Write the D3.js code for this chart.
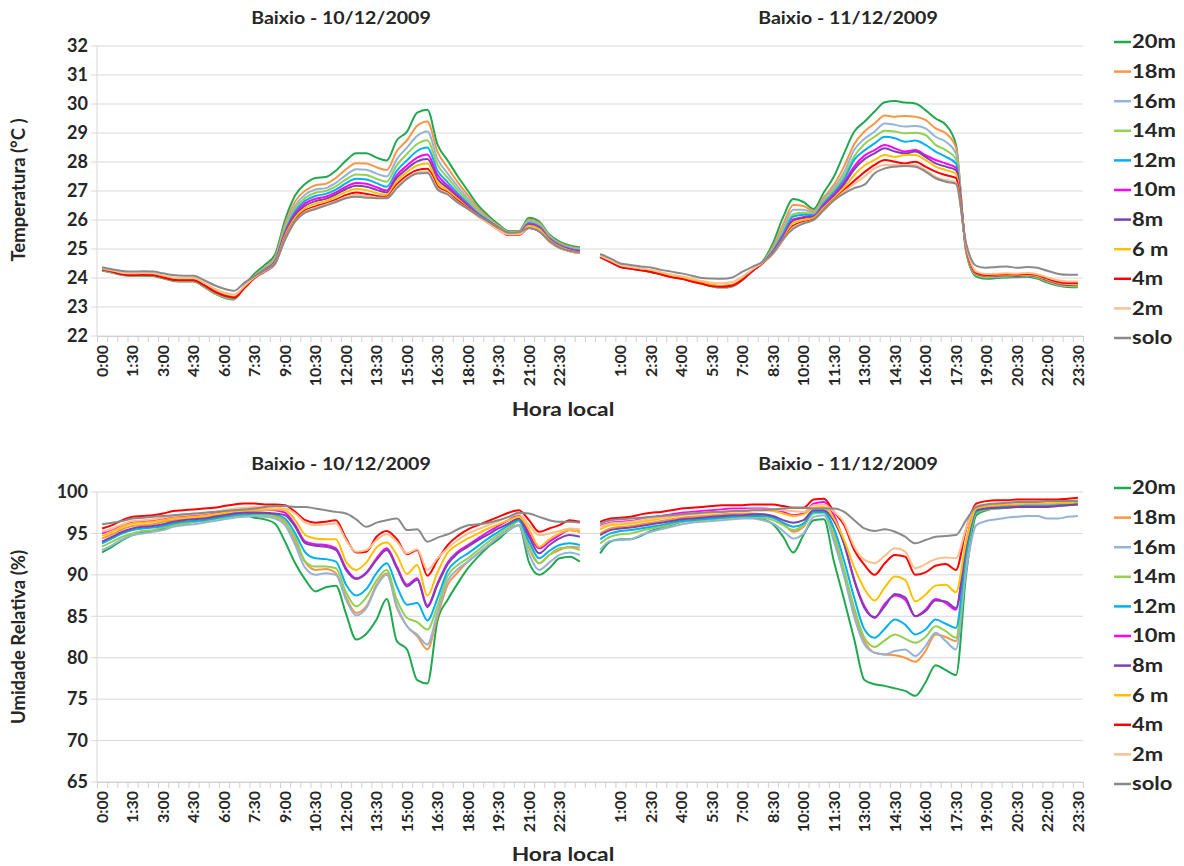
<!DOCTYPE html>
<html>
<head>
<meta charset="utf-8">
<style>
  body { margin: 0; background: #fff; }
  svg text { font-family: Lato, "Open Sans", sans-serif; font-weight: 700; fill: #262626; }
  .grid line { stroke: #d9d9d9; stroke-width: 1; }
  .axis path, .axis line { stroke: #d0d0d0; }
</style>
<script src="https://cdn.jsdelivr.net/npm/d3@7/dist/d3.min.js"></script>
</head>
<body>
<script>
// Series (legend order)
var heights = ["20m", "18m", "16m", "14m", "12m", "10m", "8m", "6 m", "4m", "2m", "solo"];
var colors  = ["#1fa84f", "#f79646", "#95b3d7", "#92d050", "#00b0f0", "#ff00ff", "#7b43ad", "#ffc000", "#ff0000", "#fac090", "#8a8a8a"];

// tick labels (every 3rd half-hour category)
var labelsDay1 = ["0:00","1:30","3:00","4:30","6:00","7:30","9:00","10:30","12:00","13:30","15:00","16:30","18:00","19:30","21:00","22:30"];
var labelsDay2 = ["1:00","2:30","4:00","5:30","7:00","8:30","10:00","11:30","13:00","14:30","16:00","17:30","19:00","20:30","22:00","23:30"];
var tempTicks = [22, 23, 24, 25, 26, 27, 28, 29, 30, 31, 32];
var humTicks = [65, 70, 75, 80, 85, 90, 95, 100];
var titles = ["Baixio - 10/12/2009", "Baixio - 11/12/2009"];

// Temperatura (°C), half-hourly, day 10 (48 values) then day 11 (48 values)
var temp20m = [24.26,24.18,24.1,24.07,24.08,24.07,23.99,23.9,23.88,23.88,23.7,23.48,23.33,23.26,23.75,24.15,24.45,24.8,26.0,26.85,27.25,27.45,27.48,27.7,28.05,28.3,28.3,28.15,28.05,28.75,29.05,29.7,29.8,28.6,28.05,27.5,27.0,26.5,26.15,25.85,25.62,25.62,26.08,25.95,25.5,25.25,25.12,25.06,
  24.72,24.55,24.38,24.32,24.27,24.21,24.13,24.04,23.98,23.89,23.81,23.71,23.67,23.71,23.95,24.28,24.58,25.2,26.1,26.72,26.62,26.38,26.95,27.5,28.3,29.05,29.39,29.74,30.06,30.1,30.05,30.02,29.79,29.5,29.28,28.6,24.9,24.05,23.97,24.0,24.02,24.03,24.04,23.98,23.84,23.74,23.69,23.68];
var temp18m = [24.28,24.2,24.12,24.09,24.1,24.09,24.01,23.92,23.9,23.9,23.72,23.5,23.35,23.28,23.72,24.08,24.36,24.7,25.85,26.65,27.02,27.2,27.25,27.45,27.75,27.96,27.95,27.82,27.72,28.38,28.75,29.25,29.4,28.35,27.8,27.3,26.85,26.4,26.08,25.8,25.6,25.6,26.02,25.9,25.46,25.21,25.08,25.02,
  24.73,24.56,24.39,24.33,24.28,24.22,24.14,24.05,23.99,23.9,23.82,23.72,23.68,23.72,23.94,24.26,24.55,25.08,25.85,26.52,26.48,26.3,26.78,27.22,27.85,28.62,29.05,29.33,29.6,29.56,29.59,29.56,29.45,29.16,28.99,28.5,24.95,24.1,24.02,24.04,24.05,24.06,24.07,24.02,23.88,23.77,23.72,23.71];
var temp16m = [24.29,24.21,24.13,24.1,24.11,24.1,24.02,23.93,23.91,23.91,23.73,23.52,23.37,23.3,23.7,24.05,24.32,24.64,25.75,26.5,26.88,27.05,27.1,27.28,27.55,27.75,27.73,27.6,27.5,28.1,28.5,28.9,29.05,28.1,27.6,27.15,26.73,26.32,26.03,25.77,25.58,25.58,25.97,25.86,25.43,25.18,25.05,24.99,
  24.74,24.57,24.4,24.34,24.29,24.23,24.15,24.06,24.0,23.91,23.83,23.73,23.69,23.73,23.94,24.25,24.54,25.0,25.7,26.35,26.35,26.25,26.7,27.1,27.65,28.42,28.8,29.05,29.33,29.28,29.22,29.24,29.16,28.87,28.7,28.3,24.98,24.12,24.05,24.06,24.07,24.07,24.08,24.04,23.9,23.79,23.74,23.73];
var temp14m = [24.29,24.21,24.13,24.1,24.11,24.1,24.02,23.94,23.92,23.92,23.74,23.53,23.38,23.31,23.7,24.04,24.3,24.6,25.68,26.4,26.77,26.94,27.0,27.16,27.4,27.57,27.55,27.42,27.32,27.9,28.28,28.62,28.75,27.9,27.45,27.03,26.64,26.27,26.0,25.75,25.57,25.56,25.93,25.82,25.4,25.16,25.03,24.97,
  24.74,24.57,24.4,24.34,24.29,24.23,24.15,24.06,24.0,23.91,23.83,23.73,23.7,23.74,23.94,24.25,24.53,24.96,25.6,26.2,26.25,26.2,26.64,27.02,27.52,28.2,28.62,28.87,29.08,29.05,28.99,29.01,28.93,28.59,28.41,28.1,25.0,24.12,24.05,24.06,24.07,24.07,24.08,24.04,23.9,23.79,23.74,23.73];
var temp12m = [24.3,24.22,24.14,24.11,24.12,24.11,24.03,23.95,23.93,23.93,23.75,23.54,23.39,23.32,23.68,24.03,24.28,24.57,25.6,26.3,26.67,26.83,26.9,27.05,27.27,27.42,27.4,27.27,27.15,27.7,28.06,28.38,28.5,27.7,27.3,26.92,26.56,26.22,25.98,25.73,25.56,25.55,25.9,25.78,25.37,25.14,25.01,24.95,
  24.75,24.58,24.41,24.35,24.3,24.24,24.16,24.07,24.01,23.92,23.84,23.74,23.71,23.75,23.95,24.25,24.53,24.93,25.52,26.12,26.18,26.17,26.58,26.95,27.4,28.08,28.4,28.64,28.87,28.82,28.7,28.74,28.59,28.36,28.18,27.95,25.02,24.14,24.07,24.08,24.09,24.08,24.09,24.05,23.92,23.81,23.76,23.75];
var temp10m = [24.3,24.22,24.14,24.11,24.12,24.11,24.03,23.95,23.93,23.93,23.76,23.55,23.4,23.33,23.68,24.02,24.27,24.55,25.55,26.22,26.58,26.73,26.8,26.95,27.15,27.28,27.25,27.13,27.02,27.55,27.88,28.15,28.26,27.55,27.18,26.84,26.5,26.19,25.96,25.72,25.55,25.54,25.86,25.75,25.35,25.12,24.99,24.93,
  24.75,24.58,24.41,24.35,24.3,24.24,24.16,24.07,24.01,23.92,23.84,23.74,23.71,23.75,23.95,24.25,24.52,24.9,25.45,26.02,26.1,26.13,26.52,26.88,27.3,27.85,28.22,28.41,28.59,28.47,28.36,28.41,28.24,28.07,27.95,27.8,25.04,24.15,24.08,24.09,24.1,24.09,24.1,24.06,23.93,23.82,23.77,23.76];
var temp8m = [24.31,24.23,24.15,24.12,24.13,24.12,24.04,23.96,23.94,23.94,23.77,23.56,23.41,23.34,23.67,24.02,24.26,24.53,25.5,26.15,26.5,26.65,26.73,26.88,27.07,27.18,27.15,27.04,26.95,27.45,27.77,28.02,28.1,27.42,27.1,26.78,26.46,26.17,25.95,25.71,25.54,25.53,25.83,25.72,25.33,25.1,24.97,24.91,
  24.75,24.58,24.41,24.35,24.3,24.24,24.16,24.07,24.01,23.92,23.84,23.75,23.72,23.76,23.95,24.25,24.52,24.88,25.4,25.98,26.07,26.1,26.47,26.82,27.23,27.75,28.1,28.3,28.47,28.36,28.3,28.36,28.18,27.95,27.84,27.72,25.05,24.15,24.08,24.09,24.1,24.09,24.1,24.06,23.94,23.83,23.78,23.77];
var temp6m = [24.31,24.23,24.15,24.12,24.13,24.12,24.04,23.96,23.94,23.94,23.78,23.57,23.42,23.35,23.66,24.01,24.25,24.52,25.45,26.08,26.42,26.57,26.65,26.8,26.97,27.07,27.03,26.93,26.87,27.35,27.66,27.88,27.95,27.3,27.02,26.72,26.42,26.15,25.93,25.7,25.53,25.52,25.8,25.69,25.31,25.08,24.95,24.89,
  24.76,24.59,24.42,24.36,24.31,24.25,24.17,24.08,24.02,23.93,23.85,23.76,23.73,23.77,23.96,24.26,24.52,24.86,25.35,25.9,26.0,26.07,26.42,26.76,27.12,27.55,27.88,28.07,28.24,28.18,28.24,28.24,28.07,27.84,27.72,27.6,25.06,24.16,24.09,24.1,24.11,24.1,24.11,24.07,23.95,23.84,23.79,23.78];
var temp4m = [24.3,24.22,24.13,24.1,24.11,24.1,24.02,23.94,23.92,23.92,23.76,23.55,23.4,23.33,23.65,24.0,24.22,24.48,25.38,26.0,26.33,26.47,26.57,26.7,26.86,26.95,26.9,26.83,26.8,27.23,27.53,27.72,27.77,27.17,26.95,26.66,26.4,26.13,25.9,25.66,25.48,25.48,25.72,25.62,25.26,25.04,24.92,24.86,
  24.72,24.55,24.38,24.32,24.27,24.21,24.12,24.03,23.97,23.88,23.8,23.72,23.7,23.74,23.94,24.25,24.52,24.85,25.32,25.8,25.93,26.02,26.35,26.7,27.03,27.35,27.65,27.9,28.07,28.01,27.95,28.01,27.84,27.67,27.55,27.45,25.08,24.18,24.1,24.12,24.13,24.12,24.14,24.1,23.98,23.87,23.83,23.83];
var temp2m = [24.33,24.26,24.18,24.16,24.17,24.16,24.09,24.02,24.0,24.0,23.84,23.65,23.5,23.43,23.72,24.03,24.24,24.49,25.35,25.97,26.29,26.42,26.53,26.65,26.8,26.87,26.83,26.78,26.77,27.16,27.46,27.64,27.67,27.1,26.91,26.62,26.38,26.12,25.88,25.65,25.5,25.5,25.74,25.63,25.26,25.04,24.92,24.86,
  24.77,24.61,24.44,24.38,24.33,24.28,24.2,24.12,24.06,23.98,23.9,23.84,23.82,23.86,24.05,24.3,24.54,24.85,25.32,25.75,25.9,26.0,26.33,26.68,26.98,27.25,27.5,27.78,27.9,27.9,27.9,27.9,27.72,27.49,27.38,27.3,25.12,24.22,24.14,24.15,24.16,24.15,24.17,24.13,24.02,23.92,23.88,23.88];
var tempSolo = [24.37,24.3,24.24,24.22,24.23,24.22,24.16,24.1,24.08,24.08,23.93,23.76,23.63,23.56,23.84,24.06,24.26,24.5,25.32,25.95,26.26,26.38,26.5,26.62,26.75,26.8,26.77,26.75,26.75,27.1,27.42,27.6,27.62,27.05,26.88,26.6,26.38,26.15,25.95,25.75,25.56,25.58,25.72,25.6,25.28,25.05,24.94,24.88,
  24.83,24.68,24.5,24.45,24.4,24.36,24.28,24.22,24.16,24.08,24.0,23.98,23.97,24.02,24.22,24.39,24.56,24.86,25.35,25.7,25.88,26.0,26.35,26.68,26.92,27.1,27.22,27.61,27.78,27.84,27.86,27.84,27.67,27.44,27.32,27.25,25.2,24.42,24.35,24.38,24.4,24.35,24.38,24.35,24.25,24.15,24.11,24.11];

// Umidade Relativa (%), same layout
var hum20m = [92.7,93.4,94.2,94.8,95.1,95.3,95.6,96.0,96.2,96.4,96.6,96.8,97.0,97.2,97.2,96.9,96.7,96.2,94.0,91.4,89.4,88.0,88.5,88.7,85.3,82.2,82.9,84.6,87.1,82.0,81.0,77.3,76.9,84.5,87.0,89.0,90.8,92.2,93.4,94.3,95.4,96.0,91.5,90.0,90.8,92.0,92.2,91.6,
  92.6,94.0,94.3,94.3,94.7,95.3,95.7,96.0,96.4,96.6,96.8,96.9,97.0,97.0,97.0,96.9,96.7,96.1,94.6,92.7,94.8,96.6,96.7,91.6,87.0,82.2,77.3,76.8,76.6,76.3,76.0,75.4,77.0,79.1,78.5,77.9,90.0,97.2,97.8,98.0,98.1,98.2,98.3,98.3,98.3,98.4,98.5,98.6];
var hum18m = [94.4,94.9,95.5,95.9,96.0,96.1,96.4,96.6,96.7,96.8,97.0,97.1,97.3,97.5,97.6,97.6,97.5,97.2,96.5,94.0,91.5,90.6,90.7,90.2,87.3,85.4,86.2,88.8,90.2,86.0,83.8,82.6,81.0,85.0,88.8,90.3,91.6,92.6,93.6,94.6,95.5,96.5,93.2,91.4,92.4,93.0,93.4,93.3,
  95.0,95.6,95.8,95.9,96.1,96.3,96.5,96.7,96.9,97.0,97.1,97.2,97.3,97.4,97.4,97.4,97.3,97.0,96.2,95.2,95.8,97.5,97.7,94.6,90.0,85.3,82.0,80.6,80.4,80.3,80.0,79.5,80.8,82.8,82.5,82.0,92.0,97.5,98.0,98.2,98.4,98.4,98.4,98.4,98.4,98.5,98.5,98.6];
var hum16m = [93.0,93.6,94.3,94.8,95.0,95.2,95.4,95.8,96.0,96.1,96.3,96.5,96.7,96.9,97.0,97.1,97.0,96.8,96.0,93.6,90.8,90.0,90.2,90.0,87.0,85.1,86.0,88.6,90.0,86.3,83.8,82.8,81.6,85.5,89.3,90.7,91.6,92.6,93.6,94.6,95.4,96.0,92.5,90.6,91.5,92.4,92.7,92.4,
  93.0,94.1,94.2,94.3,94.8,95.2,95.5,95.8,96.1,96.3,96.4,96.5,96.6,96.7,96.8,96.8,96.6,96.2,95.3,94.4,95.0,97.0,97.2,94.0,89.8,84.9,81.6,80.6,80.4,80.8,81.0,80.2,81.4,83.0,82.0,81.0,90.5,96.0,96.5,96.7,96.9,97.0,97.1,97.1,96.8,96.8,97.0,97.1];
var hum14m = [93.4,94.0,94.6,95.0,95.3,95.4,95.7,96.0,96.2,96.4,96.5,96.7,96.9,97.1,97.2,97.3,97.2,97.0,96.3,94.5,91.6,91.0,91.0,90.8,87.9,86.2,87.3,89.3,90.6,87.0,84.8,84.3,83.4,86.3,89.9,91.2,92.0,93.0,94.0,94.9,95.7,96.5,93.4,91.4,92.4,93.2,93.3,93.0,
  93.8,94.6,94.9,95.0,95.3,95.6,95.8,96.1,96.4,96.5,96.6,96.7,96.8,96.9,97.0,97.0,96.9,96.6,96.0,95.4,96.0,97.4,97.5,95.0,90.6,86.0,82.4,81.3,82.1,82.8,82.3,81.8,82.5,83.8,83.2,82.4,92.0,97.5,97.9,98.0,98.1,98.2,98.2,98.2,98.3,98.3,98.4,98.5];
var hum12m = [93.8,94.4,95.0,95.4,95.6,95.7,95.9,96.2,96.4,96.5,96.6,96.8,97.0,97.2,97.3,97.4,97.4,97.3,96.8,95.0,92.7,92.0,91.9,91.6,88.8,87.5,88.3,90.2,91.4,88.6,86.4,86.6,84.5,87.2,90.5,91.8,92.6,93.5,94.4,95.2,96.0,96.6,94.0,92.0,92.9,93.6,93.8,93.6,
  94.3,95.0,95.3,95.4,95.6,95.8,96.0,96.3,96.5,96.6,96.7,96.8,96.9,97.0,97.1,97.1,97.1,96.9,96.3,95.8,96.2,97.6,97.6,95.6,91.7,87.2,83.4,82.4,83.5,84.6,84.0,82.8,83.4,84.6,84.1,83.6,92.5,97.6,98.0,98.1,98.2,98.3,98.3,98.3,98.3,98.4,98.5,98.6];
var hum10m = [95.0,95.5,96.0,96.4,96.5,96.6,96.8,97.0,97.1,97.2,97.3,97.5,97.6,97.8,97.9,97.9,97.9,97.8,97.5,96.0,94.0,93.7,93.6,93.2,90.8,89.6,90.3,92.0,93.2,91.0,88.8,89.6,86.3,89.0,91.5,92.8,93.6,94.4,95.2,95.9,96.6,97.2,95.0,93.2,94.0,94.8,95.4,95.2,
  95.9,96.3,96.4,96.5,96.7,96.9,97.1,97.3,97.5,97.6,97.7,97.8,97.9,98.0,98.0,98.0,98.0,97.9,97.6,97.2,97.4,98.6,98.8,97.2,93.8,89.4,86.2,84.8,86.5,87.5,87.0,85.0,85.8,87.1,86.6,85.8,93.8,98.0,98.3,98.4,98.5,98.5,98.6,98.6,98.6,98.7,98.8,98.9];
var hum8m = [94.0,94.6,95.2,95.6,95.8,95.9,96.1,96.4,96.6,96.7,96.8,97.0,97.2,97.4,97.5,97.5,97.5,97.4,97.2,95.8,93.8,93.5,93.4,93.0,90.6,89.5,90.2,91.8,93.0,90.8,88.6,89.4,86.1,88.8,91.3,92.6,93.4,94.2,94.9,95.6,96.2,96.8,94.6,92.6,93.6,94.4,94.8,94.6,
  94.8,95.4,95.6,95.7,95.9,96.1,96.3,96.5,96.7,96.8,96.9,97.0,97.1,97.2,97.2,97.3,97.3,97.1,96.6,96.3,96.6,97.8,97.8,96.5,93.7,89.3,86.0,84.9,86.2,87.7,87.3,85.0,85.6,86.9,86.8,86.0,93.5,97.8,98.0,98.1,98.1,98.2,98.2,98.2,98.2,98.3,98.4,98.5];
var hum6m = [94.7,95.2,95.8,96.2,96.3,96.4,96.6,96.8,96.9,97.0,97.1,97.3,97.5,97.7,97.8,97.9,97.9,97.9,97.8,96.6,94.8,94.4,94.3,94.3,91.6,90.6,91.5,93.3,93.9,92.4,90.1,91.2,87.5,90.3,92.7,93.7,94.4,95.0,95.6,96.1,96.6,97.0,95.5,93.4,94.3,95.0,95.4,95.2,
  95.5,96.0,96.1,96.2,96.4,96.6,96.8,97.0,97.2,97.3,97.4,97.5,97.6,97.7,97.7,97.8,97.8,97.7,97.4,97.1,97.3,98.1,98.2,96.8,94.2,90.9,88.3,86.9,88.5,89.8,89.4,86.8,87.6,88.7,88.8,87.9,94.0,98.0,98.3,98.4,98.5,98.5,98.6,98.6,98.6,98.7,98.7,98.8];
var hum4m = [95.6,96.0,96.6,97.0,97.1,97.2,97.4,97.7,97.8,97.9,98.0,98.1,98.3,98.5,98.6,98.6,98.5,98.5,98.4,97.6,96.6,96.3,96.4,96.6,94.4,92.7,92.8,94.6,95.3,94.3,92.5,93.0,89.9,91.8,93.6,94.7,95.5,96.0,96.5,97.0,97.5,97.8,96.6,95.2,95.6,96.0,96.6,96.4,
  96.4,96.8,96.9,97.0,97.3,97.5,97.6,97.8,98.0,98.1,98.2,98.3,98.4,98.4,98.4,98.5,98.5,98.5,98.3,98.1,98.1,99.1,99.2,97.6,96.0,93.0,91.2,90.0,91.4,92.4,92.2,90.0,90.3,91.1,91.3,90.6,95.5,98.6,98.9,99.0,99.0,99.1,99.1,99.1,99.1,99.1,99.2,99.3];
var hum2m = [95.2,95.6,96.1,96.5,96.6,96.7,96.9,97.1,97.2,97.3,97.4,97.6,97.8,98.0,98.1,98.2,98.1,98.1,98.0,97.4,96.3,96.0,96.1,96.2,94.2,92.8,93.0,94.2,94.9,94.0,92.6,93.1,90.6,92.0,93.2,94.2,95.0,95.5,96.0,96.5,97.0,97.3,96.0,94.8,95.0,95.3,95.6,95.5,
  95.8,96.2,96.3,96.4,96.6,96.8,96.9,97.1,97.3,97.4,97.5,97.6,97.7,97.8,97.8,97.9,97.9,97.9,97.8,97.7,97.6,98.4,98.5,97.6,96.3,93.4,91.8,91.4,92.3,93.2,92.8,90.8,91.3,91.9,92.1,92.0,95.6,98.3,98.5,98.6,98.7,98.7,98.8,98.8,98.8,98.9,98.9,99.0];
var humSolo = [96.1,96.3,96.5,96.8,96.9,97.0,97.1,97.2,97.3,97.4,97.5,97.6,97.7,97.8,97.9,98.0,98.2,98.3,98.3,98.2,98.2,98.0,97.8,97.6,97.4,96.7,95.8,96.3,96.6,96.8,95.4,95.5,94.0,94.5,94.9,95.5,96.0,96.1,96.3,96.6,97.0,97.5,97.4,97.0,96.6,96.4,96.4,96.3,
  96.2,96.6,96.7,96.8,96.9,97.0,97.1,97.2,97.3,97.4,97.5,97.6,97.6,97.7,97.7,97.8,97.8,97.9,98.0,98.1,98.1,98.0,98.0,98.0,97.6,96.6,95.6,95.3,95.5,95.2,94.6,93.8,94.2,94.6,94.7,94.8,96.6,98.2,98.5,98.6,98.7,98.8,98.8,98.8,98.9,98.9,98.9,98.9];

var tempSeries = [temp20m, temp18m, temp16m, temp14m, temp12m, temp10m, temp8m, temp6m, temp4m, temp2m, tempSolo];
var humSeries = [hum20m, hum18m, hum16m, hum14m, hum12m, hum10m, hum8m, hum6m, hum4m, hum2m, humSolo];

var W = 1184, H = 866;
var svg = d3.select("body").append("svg").attr("width", W).attr("height", H);

// 97 category slots: 48 (day 10) + 1 empty + 48 (day 11)
var x = d3.scaleLinear().domain([-0.5, 96.5]).range([97, 1083]);

function toPoints(vals) {
  var pts = [];
  vals.forEach(function(v, i) {
    if (i === 48) pts.push({ i: 48, v: null });
    pts.push({ i: i < 48 ? i : i + 1, v: v });
  });
  return pts;
}

// text drawn a little wider than the font, like the original
function wideText(g, px, py, sx, size, anchor, str) {
  return g.append("text")
    .attr("transform", "translate(" + px + "," + py + ") scale(" + sx + ",1)")
    .attr("text-anchor", anchor).style("font-size", size + "px").text(str);
}

function panel(opt) {
  var g = svg.append("g");
  var y = d3.scaleLinear().domain([opt.ticks[0], opt.ticks[opt.ticks.length - 1]]).range([opt.bottom, opt.top]);

  // gridlines
  g.append("g").attr("class", "grid")
    .selectAll("line").data(opt.ticks).enter().append("line")
    .attr("x1", x.range()[0] - 6).attr("x2", x.range()[1])
    .attr("y1", function(d) { return y(d); }).attr("y2", function(d) { return y(d); });

  // y axis line
  g.append("line").attr("x1", x.range()[0]).attr("x2", x.range()[0])
    .attr("y1", opt.top).attr("y2", opt.bottom).attr("stroke", "#d9d9d9");

  // y labels
  g.selectAll(".ylab").data(opt.ticks).enter().append("text")
    .attr("x", 88).attr("y", function(d) { return y(d); })
    .attr("dy", "0.35em").attr("text-anchor", "end")
    .style("font-size", "18px").text(function(d) { return d; });

  // x axis with a tick per category boundary
  var ax = d3.axisBottom(x).tickValues(d3.range(98).map(function(k) { return k - 0.5; }))
    .tickSize(6).tickSizeOuter(0).tickFormat("");
  g.append("g").attr("class", "axis").attr("transform", "translate(0," + opt.bottom + ")").call(ax);

  // rotated tick labels
  var labs = labelsDay1.map(function(t, k) { return { i: 3 * k, t: t }; })
    .concat(labelsDay2.map(function(t, k) { return { i: 51 + 3 * k, t: t }; }));
  g.selectAll(".xlab").data(labs).enter().append("text")
    .attr("transform", function(d) { return "translate(" + x(d.i) + "," + (opt.bottom + 9) + ") rotate(-90)"; })
    .attr("text-anchor", "end").attr("dy", "0.35em")
    .style("font-size", "16px").text(function(d) { return d.t; });

  // lines
  var line = d3.line().defined(function(d) { return d.v != null; })
    .x(function(d) { return x(d.i); }).y(function(d) { return y(d.v); })
    .curve(d3.curveMonotoneX);
  opt.series.forEach(function(vals, s) {
    g.append("path").datum(toPoints(vals))
      .attr("fill", "none").attr("stroke", colors[s])
      .attr("stroke-width", 2).attr("stroke-linejoin", "round")
      .attr("d", line);
  });

  // titles
  wideText(g, 341, opt.titleY, 1.15, 17, "middle", titles[0]);
  wideText(g, 848, opt.titleY, 1.15, 17, "middle", titles[1]);
  wideText(g, 563, opt.xTitleY, 1.2, 19, "middle", "Hora local");

  g.append("text").attr("transform", "translate(25," + opt.yTitleMid + ") rotate(-90)")
    .attr("text-anchor", "middle").style("font-size", "18.5px").text(opt.yTitle);

  // legend
  var lg = g.selectAll(".leg").data(heights).enter().append("g")
    .attr("transform", function(d, k) { return "translate(1114," + (opt.legendTop + k * 29.6) + ")"; });
  lg.append("line").attr("x1", 0).attr("x2", 17).attr("y1", 0).attr("y2", 0)
    .attr("stroke", function(d, k) { return colors[k]; }).attr("stroke-width", 2.5);
  lg.append("text").attr("transform", "translate(18,0) scale(1.22,1)")
    .attr("dy", "0.36em").style("font-size", "18px").text(function(d) { return d; });
}

panel({ series: tempSeries, ticks: tempTicks, top: 46, bottom: 336, titleY: 24, xTitleY: 416,
        yTitle: "Temperatura (°C )", yTitleMid: 190, legendTop: 42 });
panel({ series: humSeries, ticks: humTicks, top: 492, bottom: 782, titleY: 470, xTitleY: 861,
        yTitle: "Umidade Relativa (%)", yTitleMid: 637, legendTop: 488 });
</script>
</body>
</html>
